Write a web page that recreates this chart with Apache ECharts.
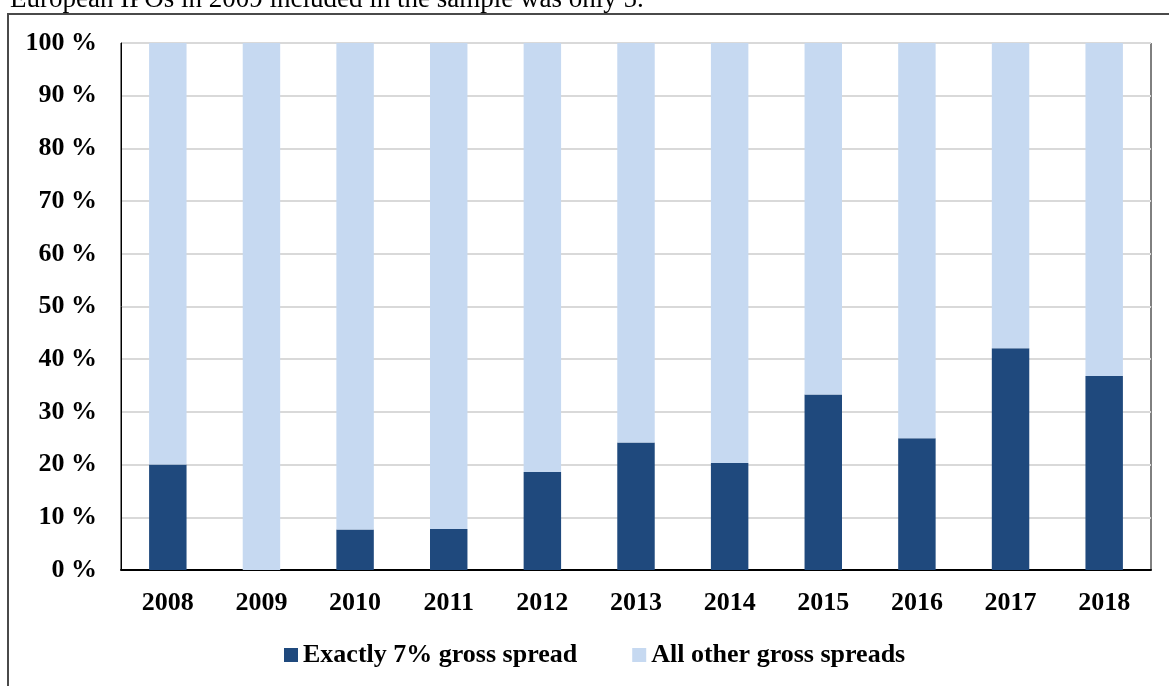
<!DOCTYPE html>
<html>
<head>
<meta charset="utf-8">
<script src="https://cdn.jsdelivr.net/npm/echarts@6/dist/echarts.min.js"></script>
<style>
  html, body { margin: 0; padding: 0; background: #fff; }
  #chart { width: 1169px; height: 686px; }
</style>
</head>
<body>
<div id="chart"></div>
<script>
// Share of IPOs per year with a gross spread of exactly 7 % versus all others
const years = ['2008', '2009', '2010', '2011', '2012', '2013', '2014', '2015', '2016', '2017', '2018'];
const exactlySeven = [20, 0, 7.7, 7.8, 18.6, 24.2, 20.3, 33.3, 25, 42.1, 36.8];
const otherSpreads = [80, 100, 92.3, 92.2, 81.4, 75.8, 79.7, 66.7, 75, 57.9, 63.2];
const seriesNames = ['Exactly 7% gross spread', 'All other gross spreads'];
const noteText = 'European IPOs in 2009 included in the sample was only 5.';

const serif = '"Liberation Serif", "Times New Roman", Times, serif';
const darkBlue = '#1f497d';
const lightBlue = '#c6d9f1';

const chart = echarts.init(document.getElementById('chart'));
chart.setOption({
  animation: false,
  backgroundColor: '#fff',
  textStyle: { fontFamily: serif },
  graphic: [
    {
      type: 'text',
      left: 10,
      top: -14,
      style: { text: noteText, font: '27px ' + serif, fill: '#000' }
    },
    {
      type: 'rect',
      shape: { x: 8, y: 14, width: 1200, height: 700 },
      style: { fill: 'none', stroke: '#4a4a4a', lineWidth: 2 },
      silent: true
    }
  ],
  grid: {
    left: 121, right: 18, top: 43, bottom: 116,
    containLabel: false,
    outerBoundsMode: 'none',
    show: true,
    borderColor: '#000',
    borderWidth: 1,
    backgroundColor: 'transparent'
  },
  legend: {
    data: seriesNames,
    left: 284,
    top: 642,
    padding: 0,
    icon: 'rect',
    itemWidth: 14,
    itemHeight: 14,
    itemGap: 55,
    textStyle: { fontFamily: serif, fontSize: 26, fontWeight: 'bold', color: '#000' }
  },
  xAxis: {
    type: 'category',
    data: years,
    axisTick: { show: false },
    axisLine: { lineStyle: { color: '#000', width: 2 } },
    axisLabel: { fontFamily: serif, fontSize: 26, fontWeight: 'bold', color: '#000', margin: 20 }
  },
  yAxis: {
    type: 'value',
    min: 0,
    max: 100,
    interval: 10,
    axisLine: { show: true, lineStyle: { color: '#000', width: 1 } },
    axisTick: { show: false },
    splitLine: { lineStyle: { color: '#d9d9d9', width: 2 } },
    axisLabel: {
      fontFamily: serif, fontSize: 26, fontWeight: 'bold', color: '#000', margin: 24,
      formatter: '{value} %'
    }
  },
  series: [
    {
      name: seriesNames[0],
      type: 'bar',
      stack: 'share',
      data: exactlySeven,
      barWidth: '40%',
      itemStyle: { color: darkBlue }
    },
    {
      name: seriesNames[1],
      type: 'bar',
      stack: 'share',
      data: otherSpreads,
      barWidth: '40%',
      itemStyle: { color: lightBlue }
    }
  ]
});
</script>
</body>
</html>
